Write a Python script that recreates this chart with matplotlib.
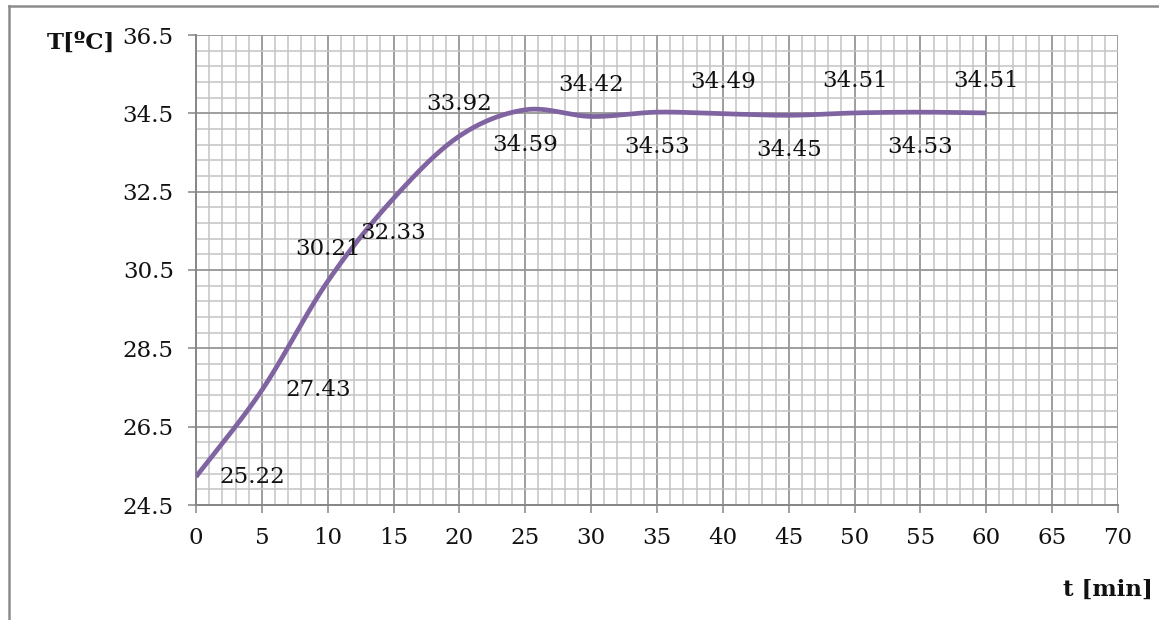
import numpy as np
import matplotlib
matplotlib.use("Agg")
import matplotlib.pyplot as plt
from matplotlib.lines import Line2D

# ---- data ----
t_min = [0, 5, 10, 15, 20, 25, 30, 35, 40, 45, 50, 55, 60]
temp_c = [25.22, 27.43, 30.21, 32.33, 33.92, 34.59, 34.42, 34.53, 34.49, 34.45, 34.51, 34.53, 34.51]
label_pos = ['right', 'right', 'above', 'below', 'above', 'below', 'above',
             'below', 'above', 'below', 'above', 'below', 'above']
x_ticks = list(range(0, 75, 5))
y_ticks = [24.5, 26.5, 28.5, 30.5, 32.5, 34.5, 36.5]
x_title = "t [min]"
y_title = "T[ºC]"

plt.rcParams['font.family'] = ['DejaVu Serif']

FS = 16.5
LINE_COLOR = '#8064A2'

fig = plt.figure(figsize=(11.59, 6.2), dpi=100)
ax = fig.add_axes([196 / 1159, 1 - 505 / 620, (1118 - 196) / 1159, (505 - 35) / 620])


def smooth_curve(xs, ys, n=60):
    # Bezier smoothing with Catmull-Rom style control points (like office charts)
    P = np.column_stack([xs, ys]).astype(float)
    Pp = np.vstack([P[0], P, P[-1]])
    out = []
    for i in range(len(P) - 1):
        p0, p1, p2, p3 = Pp[i], Pp[i + 1], Pp[i + 2], Pp[i + 3]
        c1 = p1 + (p2 - p0) / 6.0
        c2 = p2 - (p3 - p1) / 6.0
        s = np.linspace(0, 1, n)[:, None]
        seg = ((1 - s) ** 3) * p1 + 3 * ((1 - s) ** 2) * s * c1 + 3 * (1 - s) * s ** 2 * c2 + s ** 3 * p2
        out.append(seg if i == 0 else seg[1:])
    c = np.vstack(out)
    return c[:, 0], c[:, 1]


sx, sy = smooth_curve(t_min, temp_c)
ax.plot(sx, sy, color=LINE_COLOR, lw=3.4, solid_capstyle='butt', zorder=3)

ax.set_xlim(0, 70)
ax.set_ylim(24.5, 36.5)
ax.set_xticks(x_ticks)
ax.set_yticks(y_ticks)
ax.set_xticklabels([str(v) for v in x_ticks])
ax.set_yticklabels([f"{v:.1f}" for v in y_ticks])
ax.set_xticks(np.arange(0, 71, 1), minor=True)
ax.set_yticks(np.arange(24.5, 36.51, 0.4), minor=True)

ax.grid(which='minor', color='#C4C4C4', lw=1.1, zorder=0)
ax.grid(which='major', color='#969696', lw=1.3, zorder=1)
ax.set_axisbelow(True)

for side in ['top', 'right']:
    ax.spines[side].set_visible(False)
for side in ['left', 'bottom']:
    ax.spines[side].set_color('#868686')
    ax.spines[side].set_linewidth(1.4)

ax.tick_params(which='major', direction='out', length=6, width=1.1, color='#868686',
               labelsize=FS, pad=10, labelcolor='#111111')
ax.tick_params(which='minor', length=0)

# data labels
for x, y, pos in zip(t_min, temp_c, label_pos):
    if pos == 'right':
        off, ha = (17, 0), 'left'
    elif pos == 'above':
        off, ha = (0, 23), 'center'
    else:
        off, ha = (0, -25), 'center'
    ax.annotate(f"{y:.2f}", (x, y), xytext=off, textcoords='offset points',
                ha=ha, va='center', fontsize=FS, color='#111111', zorder=4)

fig.text(81 / 1159, 1 - 43 / 620, y_title, ha='center', va='center',
         fontsize=FS, fontweight='bold', color='#111111')
fig.text(1153 / 1159, 1 - 590 / 620, x_title, ha='right', va='center',
         fontsize=FS, fontweight='bold', color='#111111')

# outer chart border (top and left visible)
fig.add_artist(Line2D([9 / 1159, 1.0], [1 - 6 / 620, 1 - 6 / 620], color='#8C8C8C', lw=1.8,
                      transform=fig.transFigure))
fig.add_artist(Line2D([9 / 1159, 9 / 1159], [0.0, 1 - 6 / 620], color='#8C8C8C', lw=1.8,
                      transform=fig.transFigure))

fig.savefig('out.png', dpi=100)
